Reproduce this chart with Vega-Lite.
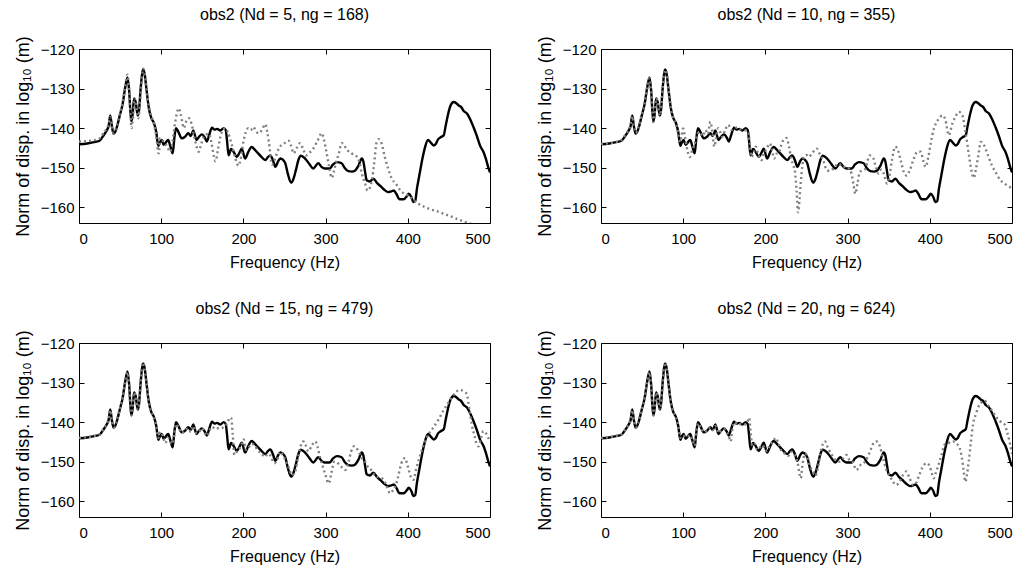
{
  "$schema": "https://vega.github.io/schema/vega-lite/v6.json",
  "padding": {"left": 13, "top": 6, "right": 5, "bottom": 5},
  "config": {
    "font": "Liberation Sans",
    "view": {"stroke": "black", "strokeWidth": 1},
    "title": {"fontSize": 16, "fontWeight": "normal", "color": "black"},
    "axis": {"domain": false, "grid": false, "tickColor": "black", "tickWidth": 1, "tickSize": -5, "labelPadding": 10, "labelFontSize": 15, "labelColor": "black", "titleFontSize": 16, "titleFontWeight": "normal", "titleColor": "black"},
    "axisBottom": {"labelPadding": 13}
  },
  "datasets": {
    "ref": [{"f":0,"v":-144.1},{"f":10,"v":-143.9},{"f":20,"v":-143.5},{"f":25,"v":-143.2},{"f":30,"v":-141.8},{"f":34,"v":-140.5},{"f":36,"v":-139.5},{"f":38,"v":-136.8},{"f":40,"v":-139.5},{"f":42,"v":-141.4},{"f":44,"v":-141},{"f":46,"v":-139.8},{"f":50,"v":-136.5},{"f":53,"v":-134},{"f":56,"v":-130},{"f":59,"v":-127.2},{"f":61,"v":-130.5},{"f":63.5,"v":-138.3},{"f":65,"v":-137},{"f":67,"v":-132.5},{"f":69,"v":-133.5},{"f":71.5,"v":-136.8},{"f":73,"v":-135.5},{"f":75,"v":-130},{"f":78,"v":-125.2},{"f":80,"v":-126.5},{"f":82,"v":-130},{"f":85,"v":-135},{"f":88,"v":-137.5},{"f":91,"v":-138.6},{"f":94,"v":-141},{"f":96.5,"v":-144.5},{"f":98,"v":-143.8},{"f":100.5,"v":-143},{"f":103,"v":-144.2},{"f":105,"v":-143.8},{"f":108.5,"v":-143},{"f":111,"v":-144.5},{"f":114,"v":-146.4},{"f":116,"v":-142.5},{"f":118,"v":-140},{"f":121,"v":-141},{"f":125,"v":-142.6},{"f":129,"v":-142.2},{"f":133,"v":-141.3},{"f":136,"v":-142},{"f":139,"v":-140.6},{"f":143,"v":-143},{"f":146,"v":-142.2},{"f":149.5,"v":-141.6},{"f":153,"v":-142.4},{"f":155.5,"v":-143.4},{"f":158,"v":-142},{"f":161.8,"v":-139.9},{"f":165,"v":-140.4},{"f":168,"v":-140.2},{"f":172,"v":-140.6},{"f":176,"v":-140},{"f":178.5,"v":-140.5},{"f":180,"v":-143},{"f":182,"v":-146.9},{"f":185,"v":-145.3},{"f":188,"v":-146},{"f":192,"v":-147.3},{"f":195,"v":-146.3},{"f":198,"v":-145.2},{"f":202,"v":-147.7},{"f":206,"v":-146},{"f":210,"v":-144.8},{"f":214,"v":-145.5},{"f":218,"v":-146.4},{"f":222,"v":-147.3},{"f":226.6,"v":-148.1},{"f":230,"v":-147.3},{"f":232.7,"v":-146.9},{"f":236,"v":-148.2},{"f":239,"v":-149.8},{"f":242,"v":-148.5},{"f":245,"v":-147.7},{"f":248,"v":-148},{"f":251,"v":-148.9},{"f":254,"v":-151.5},{"f":258,"v":-153.8},{"f":261,"v":-152.8},{"f":264,"v":-150.5},{"f":267,"v":-148},{"f":270,"v":-147},{"f":275,"v":-147.7},{"f":280,"v":-149},{"f":285,"v":-150.2},{"f":291,"v":-148.9},{"f":295,"v":-149.8},{"f":299,"v":-150.2},{"f":305,"v":-150.2},{"f":309,"v":-149.2},{"f":313.5,"v":-148.6},{"f":319.5,"v":-148.9},{"f":323,"v":-150},{"f":327.6,"v":-150.9},{"f":332,"v":-151},{"f":336,"v":-150.7},{"f":340,"v":-149.5},{"f":344,"v":-147.7},{"f":346,"v":-148.5},{"f":348,"v":-151},{"f":350,"v":-153.2},{"f":354,"v":-153.5},{"f":358,"v":-152.8},{"f":363,"v":-154},{"f":368,"v":-154.9},{"f":372,"v":-155.7},{"f":376,"v":-156.2},{"f":380,"v":-156},{"f":383,"v":-155.8},{"f":386,"v":-156.6},{"f":390,"v":-158},{"f":395,"v":-158},{"f":399,"v":-157.2},{"f":401,"v":-156.6},{"f":404,"v":-157.3},{"f":407,"v":-158.7},{"f":409,"v":-158.5},{"f":411,"v":-155.5},{"f":414,"v":-152},{"f":418,"v":-147.5},{"f":421,"v":-144.8},{"f":424.6,"v":-143},{"f":428,"v":-143.7},{"f":431.5,"v":-144.4},{"f":434,"v":-144},{"f":437,"v":-142.8},{"f":440,"v":-142.3},{"f":443.7,"v":-141.8},{"f":446,"v":-139.5},{"f":449,"v":-136.5},{"f":452,"v":-134.3},{"f":455.8,"v":-133.4},{"f":459,"v":-133.7},{"f":462,"v":-134.3},{"f":465,"v":-134.7},{"f":468,"v":-135.7},{"f":472,"v":-136.3},{"f":476,"v":-137.8},{"f":480,"v":-139.8},{"f":484,"v":-142},{"f":488,"v":-144.5},{"f":492,"v":-146},{"f":495,"v":-147.8},{"f":498,"v":-150},{"f":500,"v":-151.2}],
    "g5": [{"f":0,"v":-143.4},{"f":10,"v":-143.3},{"f":20,"v":-143},{"f":25,"v":-142.6},{"f":30,"v":-141.2},{"f":34,"v":-140},{"f":36,"v":-139},{"f":38,"v":-137.2},{"f":40,"v":-139.5},{"f":42,"v":-141.2},{"f":44,"v":-140.5},{"f":46,"v":-139.5},{"f":50,"v":-136.2},{"f":53,"v":-133.5},{"f":56,"v":-129.5},{"f":59,"v":-126.5},{"f":61,"v":-130.5},{"f":64,"v":-140},{"f":66,"v":-136.5},{"f":67.5,"v":-132.5},{"f":69,"v":-133.5},{"f":72,"v":-137.5},{"f":73.5,"v":-135.5},{"f":75.5,"v":-130},{"f":78,"v":-125},{"f":80,"v":-126.3},{"f":82,"v":-130},{"f":85,"v":-134.5},{"f":88,"v":-137},{"f":91,"v":-138.8},{"f":94,"v":-142},{"f":97,"v":-146.4},{"f":99,"v":-142.5},{"f":102,"v":-143.2},{"f":105,"v":-143.9},{"f":108,"v":-145},{"f":111,"v":-146},{"f":114,"v":-143},{"f":117,"v":-138.5},{"f":121.5,"v":-135},{"f":124,"v":-136.8},{"f":127.5,"v":-140},{"f":130,"v":-138.5},{"f":133.6,"v":-137.5},{"f":137,"v":-139},{"f":141,"v":-143},{"f":145.8,"v":-146},{"f":148,"v":-144.5},{"f":151.8,"v":-142.2},{"f":155,"v":-141.6},{"f":157.9,"v":-141.4},{"f":161,"v":-143.5},{"f":164,"v":-147},{"f":166,"v":-148.4},{"f":169,"v":-145.5},{"f":172,"v":-142.2},{"f":175,"v":-140.5},{"f":178,"v":-140},{"f":181,"v":-141},{"f":186,"v":-144.3},{"f":190,"v":-147.5},{"f":194,"v":-149.5},{"f":197,"v":-147.5},{"f":200,"v":-143.5},{"f":203,"v":-141},{"f":206,"v":-140},{"f":209,"v":-140.5},{"f":212,"v":-139.7},{"f":216,"v":-141},{"f":219,"v":-141.3},{"f":223,"v":-140.3},{"f":226.6,"v":-139},{"f":229,"v":-141},{"f":231,"v":-143.5},{"f":234.8,"v":-149.2},{"f":238,"v":-148},{"f":243,"v":-145.2},{"f":248,"v":-144},{"f":251,"v":-143.7},{"f":255,"v":-143.2},{"f":258,"v":-144.5},{"f":261,"v":-146.4},{"f":265,"v":-145},{"f":269,"v":-143.8},{"f":273,"v":-145.5},{"f":276,"v":-146.9},{"f":280,"v":-146.3},{"f":285,"v":-145.2},{"f":290,"v":-143.3},{"f":295.3,"v":-141.3},{"f":298,"v":-143},{"f":301,"v":-146},{"f":304,"v":-149.5},{"f":307.5,"v":-152.6},{"f":310,"v":-151},{"f":313,"v":-148.5},{"f":316,"v":-146.5},{"f":319.5,"v":-143.8},{"f":323,"v":-144.5},{"f":326,"v":-145.6},{"f":330,"v":-146},{"f":334,"v":-146.8},{"f":338,"v":-147.2},{"f":341,"v":-148.5},{"f":344,"v":-151.5},{"f":348,"v":-154},{"f":351,"v":-155.8},{"f":354,"v":-155},{"f":356.5,"v":-153},{"f":359,"v":-149},{"f":362,"v":-143.7},{"f":365,"v":-142.8},{"f":368,"v":-143.8},{"f":372,"v":-147.3},{"f":376,"v":-150.2},{"f":380.6,"v":-152.8},{"f":386,"v":-154.2},{"f":391,"v":-155.8},{"f":396,"v":-156.6},{"f":401,"v":-157.1},{"f":407,"v":-158.2},{"f":412,"v":-159},{"f":420,"v":-159.9},{"f":427,"v":-160.5},{"f":435,"v":-161},{"f":443,"v":-161.6},{"f":451,"v":-162.2},{"f":460,"v":-163},{"f":468,"v":-163.6},{"f":474,"v":-164},{"f":480,"v":-164.5},{"f":490,"v":-165.3},{"f":500,"v":-166.2}],
    "g10": [{"f":0,"v":-144},{"f":10,"v":-143.8},{"f":20,"v":-143.4},{"f":25,"v":-143},{"f":30,"v":-141.6},{"f":34,"v":-140.3},{"f":36,"v":-139.3},{"f":38,"v":-137},{"f":40,"v":-139.5},{"f":42,"v":-141.2},{"f":44,"v":-140.8},{"f":46,"v":-139.6},{"f":50,"v":-136.3},{"f":53,"v":-133.8},{"f":56,"v":-129.8},{"f":59,"v":-127.4},{"f":61,"v":-130.5},{"f":63.5,"v":-138.5},{"f":65,"v":-137},{"f":67,"v":-132.5},{"f":69,"v":-133.5},{"f":71.5,"v":-136.8},{"f":73,"v":-135.5},{"f":75,"v":-130},{"f":78,"v":-125.3},{"f":80,"v":-126.5},{"f":82,"v":-130},{"f":85,"v":-135},{"f":88,"v":-137.5},{"f":91,"v":-138.8},{"f":94,"v":-141.5},{"f":96,"v":-143.5},{"f":98,"v":-142},{"f":100,"v":-140.1},{"f":102,"v":-142},{"f":105,"v":-145.5},{"f":108,"v":-147.3},{"f":111,"v":-145.5},{"f":114,"v":-144},{"f":117,"v":-141.5},{"f":120,"v":-141},{"f":124,"v":-142},{"f":127,"v":-140.5},{"f":130,"v":-141.5},{"f":133,"v":-138.4},{"f":135.5,"v":-141},{"f":137.8,"v":-144.7},{"f":140,"v":-142.5},{"f":142.6,"v":-140},{"f":145,"v":-141},{"f":147.5,"v":-142.2},{"f":151,"v":-140.5},{"f":154.8,"v":-139.2},{"f":158.8,"v":-140.5},{"f":162,"v":-140.2},{"f":166,"v":-139.8},{"f":170,"v":-140.3},{"f":175,"v":-140.5},{"f":179,"v":-141},{"f":181,"v":-144},{"f":183,"v":-147.3},{"f":186,"v":-146},{"f":188.4,"v":-144.7},{"f":191,"v":-146.5},{"f":195.3,"v":-148.1},{"f":198,"v":-146.5},{"f":201,"v":-145.5},{"f":205.4,"v":-143.9},{"f":208,"v":-145.5},{"f":210.7,"v":-147.7},{"f":213,"v":-146.5},{"f":216,"v":-146.4},{"f":219,"v":-144.5},{"f":222,"v":-143},{"f":225.7,"v":-142.5},{"f":228.5,"v":-144.5},{"f":231.8,"v":-148.1},{"f":234,"v":-149.5},{"f":236,"v":-151},{"f":238,"v":-156},{"f":239.9,"v":-161.3},{"f":241.5,"v":-158},{"f":243,"v":-153.8},{"f":245,"v":-149.5},{"f":247,"v":-147.3},{"f":250,"v":-146.8},{"f":253,"v":-147.3},{"f":257,"v":-146.3},{"f":262.5,"v":-145.2},{"f":266,"v":-146.5},{"f":270,"v":-148},{"f":275,"v":-150.7},{"f":279,"v":-150.8},{"f":284.4,"v":-149.8},{"f":289.3,"v":-149},{"f":294,"v":-149.8},{"f":298.6,"v":-149.8},{"f":302,"v":-150.3},{"f":304.7,"v":-151.5},{"f":307,"v":-154},{"f":309.4,"v":-156.6},{"f":312,"v":-154},{"f":315,"v":-151},{"f":318,"v":-150.8},{"f":321.7,"v":-150.3},{"f":324,"v":-148.5},{"f":327,"v":-146.9},{"f":331,"v":-147.5},{"f":334,"v":-149.5},{"f":337.8,"v":-151.5},{"f":341,"v":-150.5},{"f":344,"v":-151.5},{"f":348,"v":-154},{"f":351,"v":-152},{"f":354,"v":-148},{"f":358,"v":-144.7},{"f":361,"v":-145.5},{"f":365,"v":-148.5},{"f":369.5,"v":-151.7},{"f":372,"v":-152},{"f":375.6,"v":-150.7},{"f":380,"v":-148},{"f":385,"v":-146},{"f":389,"v":-146},{"f":392,"v":-148.2},{"f":395,"v":-149.8},{"f":398,"v":-147.5},{"f":401,"v":-144},{"f":405,"v":-140.1},{"f":409,"v":-138.3},{"f":413,"v":-137.1},{"f":416,"v":-136.8},{"f":419,"v":-137.9},{"f":423,"v":-141.8},{"f":427.5,"v":-138.8},{"f":431,"v":-137.2},{"f":435.5,"v":-135.9},{"f":439.5,"v":-136.7},{"f":443,"v":-140.5},{"f":447.7,"v":-146.9},{"f":450,"v":-150},{"f":453.5,"v":-152.6},{"f":456,"v":-150.5},{"f":459,"v":-147},{"f":462,"v":-143.5},{"f":465,"v":-144},{"f":470.8,"v":-146.9},{"f":475.5,"v":-149.4},{"f":481,"v":-151.5},{"f":486,"v":-153.2},{"f":491,"v":-154},{"f":495,"v":-154.6},{"f":500,"v":-155.2}],
    "g15": [{"f":0,"v":-144},{"f":10,"v":-143.8},{"f":20,"v":-143.4},{"f":25,"v":-143.1},{"f":30,"v":-141.7},{"f":34,"v":-140.4},{"f":36,"v":-139.4},{"f":38,"v":-137},{"f":40,"v":-139.5},{"f":42,"v":-141.3},{"f":44,"v":-140.9},{"f":46,"v":-139.7},{"f":50,"v":-136.4},{"f":53,"v":-133.9},{"f":56,"v":-130},{"f":59,"v":-127.4},{"f":61,"v":-130.5},{"f":63.5,"v":-138.3},{"f":65,"v":-137},{"f":67,"v":-132.5},{"f":69,"v":-133.5},{"f":71.5,"v":-136.8},{"f":73,"v":-135.5},{"f":75,"v":-130},{"f":78,"v":-125},{"f":80,"v":-126.5},{"f":82,"v":-130},{"f":85,"v":-135},{"f":88,"v":-137.5},{"f":91,"v":-138.6},{"f":94,"v":-141},{"f":96.5,"v":-144},{"f":99,"v":-142.5},{"f":102,"v":-143.5},{"f":105,"v":-145.3},{"f":108,"v":-144},{"f":111,"v":-145},{"f":114,"v":-145.5},{"f":116,"v":-143},{"f":118,"v":-140.5},{"f":121,"v":-141.2},{"f":125,"v":-142.8},{"f":129,"v":-142},{"f":133,"v":-141.6},{"f":136,"v":-142.5},{"f":139,"v":-141},{"f":143,"v":-142.8},{"f":146,"v":-142.5},{"f":149.5,"v":-141.5},{"f":153,"v":-142.8},{"f":156,"v":-143.5},{"f":159,"v":-142},{"f":162,"v":-141.2},{"f":166,"v":-141.8},{"f":170,"v":-141.5},{"f":174,"v":-141.5},{"f":177,"v":-140.8},{"f":180,"v":-140.5},{"f":183,"v":-139},{"f":185,"v":-138.9},{"f":187,"v":-143},{"f":189,"v":-148.3},{"f":192,"v":-147.5},{"f":195,"v":-146.8},{"f":198,"v":-145.5},{"f":200.4,"v":-144.4},{"f":203,"v":-147},{"f":206,"v":-146.5},{"f":210,"v":-145.5},{"f":214,"v":-146},{"f":218,"v":-147.3},{"f":222,"v":-147.8},{"f":226,"v":-148.8},{"f":230,"v":-148},{"f":233,"v":-148.5},{"f":237.7,"v":-150.4},{"f":241,"v":-149.5},{"f":245,"v":-147.5},{"f":248,"v":-148.3},{"f":252,"v":-150},{"f":255,"v":-151.5},{"f":259,"v":-153.4},{"f":263,"v":-152.5},{"f":266,"v":-149.5},{"f":269,"v":-146.5},{"f":273,"v":-144.9},{"f":276,"v":-146},{"f":279,"v":-147.4},{"f":283,"v":-146},{"f":287.5,"v":-144.9},{"f":290.5,"v":-146.5},{"f":293.5,"v":-149.1},{"f":297,"v":-151.5},{"f":300,"v":-153.5},{"f":303.7,"v":-155.5},{"f":307,"v":-153},{"f":310.5,"v":-150},{"f":314,"v":-150.2},{"f":317.8,"v":-151.2},{"f":321,"v":-151.5},{"f":324,"v":-152.1},{"f":328,"v":-150},{"f":331,"v":-147.5},{"f":335,"v":-146.1},{"f":339,"v":-147},{"f":344,"v":-149.1},{"f":348,"v":-150},{"f":351,"v":-151.2},{"f":355,"v":-152},{"f":358,"v":-153},{"f":362,"v":-153.8},{"f":366,"v":-154},{"f":370.5,"v":-154.6},{"f":374,"v":-156},{"f":378.6,"v":-158},{"f":381,"v":-157.5},{"f":384.7,"v":-156.3},{"f":388,"v":-154},{"f":392,"v":-150.5},{"f":396.8,"v":-149.1},{"f":399,"v":-150.5},{"f":401.7,"v":-152.5},{"f":404,"v":-154},{"f":407,"v":-154.6},{"f":410,"v":-152},{"f":414,"v":-149.1},{"f":418,"v":-146.5},{"f":423,"v":-144},{"f":427,"v":-142.5},{"f":431,"v":-141.4},{"f":437,"v":-139.5},{"f":443,"v":-137.2},{"f":448,"v":-135.5},{"f":453.5,"v":-133.8},{"f":458,"v":-132.5},{"f":463.6,"v":-131.9},{"f":468,"v":-132.2},{"f":471.7,"v":-132.9},{"f":475,"v":-137},{"f":477.8,"v":-140.6},{"f":481.8,"v":-144},{"f":484,"v":-145.8},{"f":486,"v":-146.1},{"f":489,"v":-144},{"f":492,"v":-142.3},{"f":495,"v":-142.8},{"f":498,"v":-144},{"f":500,"v":-144.9}],
    "g20": [{"f":0,"v":-144},{"f":10,"v":-143.8},{"f":20,"v":-143.4},{"f":25,"v":-143.1},{"f":30,"v":-141.7},{"f":34,"v":-140.4},{"f":36,"v":-139.4},{"f":38,"v":-137},{"f":40,"v":-139.5},{"f":42,"v":-141.3},{"f":44,"v":-140.9},{"f":46,"v":-139.7},{"f":50,"v":-136.4},{"f":53,"v":-133.9},{"f":56,"v":-130},{"f":59,"v":-127.4},{"f":61,"v":-130.5},{"f":63.5,"v":-138.3},{"f":65,"v":-137},{"f":67,"v":-132.5},{"f":69,"v":-133.5},{"f":71.5,"v":-136.8},{"f":73,"v":-135.5},{"f":75,"v":-130},{"f":78,"v":-125},{"f":80,"v":-126.5},{"f":82,"v":-130},{"f":85,"v":-135},{"f":88,"v":-137.5},{"f":91,"v":-138.6},{"f":94,"v":-141},{"f":96.5,"v":-144},{"f":98,"v":-143.5},{"f":100.5,"v":-143.5},{"f":103,"v":-143.5},{"f":105,"v":-143.8},{"f":108.5,"v":-143.3},{"f":111,"v":-144.5},{"f":114,"v":-146},{"f":116,"v":-142.5},{"f":118,"v":-140.3},{"f":121,"v":-141.2},{"f":125,"v":-142.6},{"f":129,"v":-142.2},{"f":133,"v":-141.3},{"f":136,"v":-142},{"f":139,"v":-141},{"f":143,"v":-142.8},{"f":146,"v":-142.2},{"f":149.5,"v":-141.8},{"f":153,"v":-142.5},{"f":155.5,"v":-143.5},{"f":157.6,"v":-144.9},{"f":160,"v":-141.5},{"f":163,"v":-140},{"f":166,"v":-140.6},{"f":170,"v":-140.5},{"f":174,"v":-140.6},{"f":177,"v":-140.5},{"f":180.3,"v":-138.9},{"f":182,"v":-142.5},{"f":184,"v":-146},{"f":187,"v":-145.5},{"f":190,"v":-147},{"f":193,"v":-146.5},{"f":196,"v":-145.8},{"f":199,"v":-146.5},{"f":202,"v":-147.3},{"f":205,"v":-146},{"f":209,"v":-145},{"f":212.7,"v":-144},{"f":216,"v":-145.5},{"f":220,"v":-147.5},{"f":224,"v":-148},{"f":228,"v":-148.5},{"f":232,"v":-147.5},{"f":236,"v":-148.5},{"f":239,"v":-150},{"f":241,"v":-152.5},{"f":243,"v":-154.2},{"f":245,"v":-151},{"f":248,"v":-148},{"f":251,"v":-148.5},{"f":254,"v":-151},{"f":258,"v":-152.5},{"f":261,"v":-153.5},{"f":264,"v":-151.5},{"f":267,"v":-148},{"f":270,"v":-145.5},{"f":272.5,"v":-144.9},{"f":276,"v":-146.5},{"f":280,"v":-148},{"f":285,"v":-149.5},{"f":290,"v":-150},{"f":294,"v":-149.3},{"f":298.6,"v":-148.3},{"f":302,"v":-149.5},{"f":306,"v":-150},{"f":310.8,"v":-152.1},{"f":315,"v":-151},{"f":320,"v":-150.3},{"f":324,"v":-149},{"f":328,"v":-147},{"f":331,"v":-145.5},{"f":335,"v":-144.9},{"f":339,"v":-146},{"f":343,"v":-149},{"f":347,"v":-152},{"f":351,"v":-153.5},{"f":355,"v":-155},{"f":359.4,"v":-155.9},{"f":363,"v":-155},{"f":367,"v":-153.5},{"f":371.6,"v":-152.5},{"f":375,"v":-154},{"f":379.7,"v":-155.9},{"f":383,"v":-155.5},{"f":387,"v":-153.5},{"f":391,"v":-151.5},{"f":395.9,"v":-150.4},{"f":398,"v":-150.6},{"f":400,"v":-151.2},{"f":402.5,"v":-153},{"f":404.8,"v":-154.2},{"f":407,"v":-153},{"f":410,"v":-151.2},{"f":414,"v":-148.5},{"f":418,"v":-145.7},{"f":422,"v":-145.5},{"f":425,"v":-145},{"f":428.3,"v":-144.9},{"f":433,"v":-145.5},{"f":436.4,"v":-146.6},{"f":439,"v":-149},{"f":441,"v":-152},{"f":443.3,"v":-155.1},{"f":445,"v":-153.5},{"f":447.4,"v":-150},{"f":450,"v":-145},{"f":452.6,"v":-140.6},{"f":456,"v":-138},{"f":460.7,"v":-135.5},{"f":463,"v":-135},{"f":466.8,"v":-134.6},{"f":470,"v":-135.5},{"f":472.9,"v":-136.3},{"f":477,"v":-137.5},{"f":481,"v":-138.8},{"f":485,"v":-139.7},{"f":488,"v":-140.2},{"f":491,"v":-140.6},{"f":494,"v":-142.5},{"f":497,"v":-144.9},{"f":500,"v":-148}]
  },
  "columns": 2,
  "spacing": {"row": 120, "column": 111},
  "bounds": "flush",
  "concat": [
    {
      "title": {"text": "obs2 (Nd = 5, ng = 168)", "offset": 13},
      "width": 411, "height": 174,
      "resolve": {"axis": {"x": "independent", "y": "independent"}},
      "layer": [
        {"data": {"name": "ref"}, "mark": {"type": "line", "color": "black", "strokeWidth": 2.4, "interpolate": "monotone", "clip": true},
         "encoding": {"x": {"field": "f", "type": "quantitative", "scale": {"domain": [0, 500], "nice": false}, "axis": {"values": [0,100,200,300,400,500], "title": "Frequency (Hz)", "titlePadding": 8}},
                      "y": {"field": "v", "type": "quantitative", "scale": {"domain": [-164, -120], "nice": false, "zero": false}, "axis": {"values": [-160,-150,-140,-130,-120], "title": "Norm of disp. in log₁₀ (m)", "titleFontSize": 18, "titlePadding": 8}}}},
        {"data": {"name": "g5"}, "mark": {"type": "line", "color": "#808080", "strokeWidth": 2.4, "strokeDash": [2, 3], "interpolate": "monotone", "clip": true},
         "encoding": {"x": {"field": "f", "type": "quantitative", "scale": {"domain": [0, 500], "nice": false}, "axis": {"orient": "top", "values": [0,100,200,300,400,500], "labels": false, "title": null}},
                      "y": {"field": "v", "type": "quantitative", "scale": {"domain": [-164, -120], "nice": false, "zero": false}, "axis": {"orient": "right", "values": [-160,-150,-140,-130,-120], "labels": false, "title": null}}}}
      ]
    },
    {
      "title": {"text": "obs2 (Nd = 10, ng = 355)", "offset": 13},
      "width": 411, "height": 174,
      "resolve": {"axis": {"x": "independent", "y": "independent"}},
      "layer": [
        {"data": {"name": "ref"}, "mark": {"type": "line", "color": "black", "strokeWidth": 2.4, "interpolate": "monotone", "clip": true},
         "encoding": {"x": {"field": "f", "type": "quantitative", "scale": {"domain": [0, 500], "nice": false}, "axis": {"values": [0,100,200,300,400,500], "title": "Frequency (Hz)", "titlePadding": 8}},
                      "y": {"field": "v", "type": "quantitative", "scale": {"domain": [-164, -120], "nice": false, "zero": false}, "axis": {"values": [-160,-150,-140,-130,-120], "title": "Norm of disp. in log₁₀ (m)", "titleFontSize": 18, "titlePadding": 8}}}},
        {"data": {"name": "g10"}, "mark": {"type": "line", "color": "#808080", "strokeWidth": 2.4, "strokeDash": [2, 3], "interpolate": "monotone", "clip": true},
         "encoding": {"x": {"field": "f", "type": "quantitative", "scale": {"domain": [0, 500], "nice": false}, "axis": {"orient": "top", "values": [0,100,200,300,400,500], "labels": false, "title": null}},
                      "y": {"field": "v", "type": "quantitative", "scale": {"domain": [-164, -120], "nice": false, "zero": false}, "axis": {"orient": "right", "values": [-160,-150,-140,-130,-120], "labels": false, "title": null}}}}
      ]
    },
    {
      "title": {"text": "obs2 (Nd = 15, ng = 479)", "offset": 13},
      "width": 411, "height": 174,
      "resolve": {"axis": {"x": "independent", "y": "independent"}},
      "layer": [
        {"data": {"name": "ref"}, "mark": {"type": "line", "color": "black", "strokeWidth": 2.4, "interpolate": "monotone", "clip": true},
         "encoding": {"x": {"field": "f", "type": "quantitative", "scale": {"domain": [0, 500], "nice": false}, "axis": {"values": [0,100,200,300,400,500], "title": "Frequency (Hz)", "titlePadding": 8}},
                      "y": {"field": "v", "type": "quantitative", "scale": {"domain": [-164, -120], "nice": false, "zero": false}, "axis": {"values": [-160,-150,-140,-130,-120], "title": "Norm of disp. in log₁₀ (m)", "titleFontSize": 18, "titlePadding": 8}}}},
        {"data": {"name": "g15"}, "mark": {"type": "line", "color": "#808080", "strokeWidth": 2.4, "strokeDash": [2, 3], "interpolate": "monotone", "clip": true},
         "encoding": {"x": {"field": "f", "type": "quantitative", "scale": {"domain": [0, 500], "nice": false}, "axis": {"orient": "top", "values": [0,100,200,300,400,500], "labels": false, "title": null}},
                      "y": {"field": "v", "type": "quantitative", "scale": {"domain": [-164, -120], "nice": false, "zero": false}, "axis": {"orient": "right", "values": [-160,-150,-140,-130,-120], "labels": false, "title": null}}}}
      ]
    },
    {
      "title": {"text": "obs2 (Nd = 20, ng = 624)", "offset": 13},
      "width": 411, "height": 174,
      "resolve": {"axis": {"x": "independent", "y": "independent"}},
      "layer": [
        {"data": {"name": "ref"}, "mark": {"type": "line", "color": "black", "strokeWidth": 2.4, "interpolate": "monotone", "clip": true},
         "encoding": {"x": {"field": "f", "type": "quantitative", "scale": {"domain": [0, 500], "nice": false}, "axis": {"values": [0,100,200,300,400,500], "title": "Frequency (Hz)", "titlePadding": 8}},
                      "y": {"field": "v", "type": "quantitative", "scale": {"domain": [-164, -120], "nice": false, "zero": false}, "axis": {"values": [-160,-150,-140,-130,-120], "title": "Norm of disp. in log₁₀ (m)", "titleFontSize": 18, "titlePadding": 8}}}},
        {"data": {"name": "g20"}, "mark": {"type": "line", "color": "#808080", "strokeWidth": 2.4, "strokeDash": [2, 3], "interpolate": "monotone", "clip": true},
         "encoding": {"x": {"field": "f", "type": "quantitative", "scale": {"domain": [0, 500], "nice": false}, "axis": {"orient": "top", "values": [0,100,200,300,400,500], "labels": false, "title": null}},
                      "y": {"field": "v", "type": "quantitative", "scale": {"domain": [-164, -120], "nice": false, "zero": false}, "axis": {"orient": "right", "values": [-160,-150,-140,-130,-120], "labels": false, "title": null}}}}
      ]
    }
  ]
}
